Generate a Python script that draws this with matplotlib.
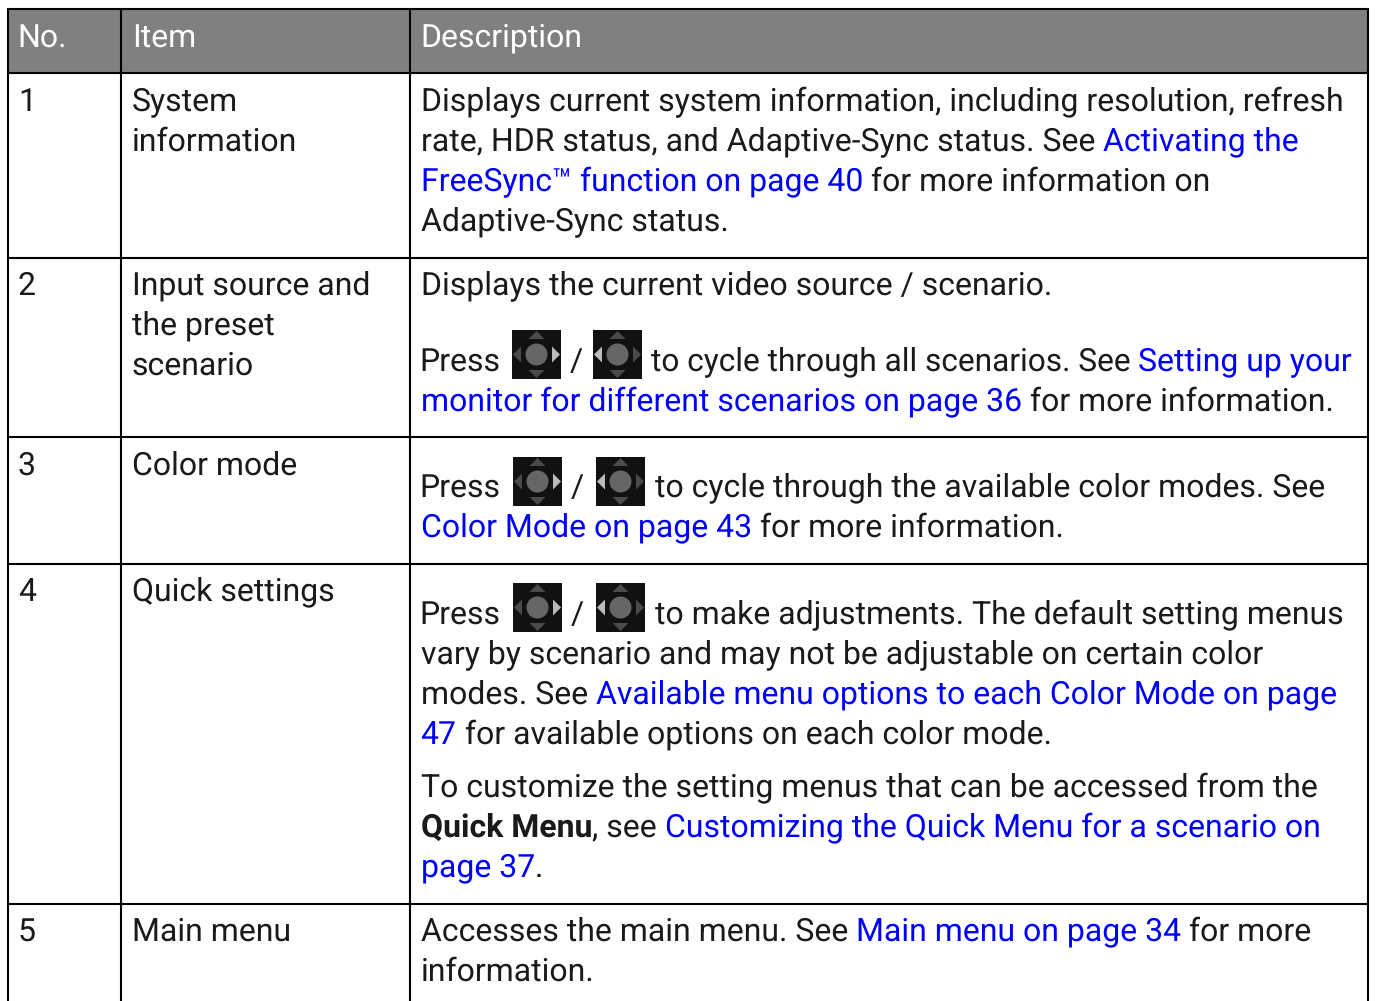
import matplotlib
matplotlib.use("Agg")
import matplotlib.pyplot as plt
from matplotlib.font_manager import FontProperties
from matplotlib.ft2font import LoadFlags
from matplotlib.patches import Circle, Polygon, Rectangle

WIDTH, HEIGHT = 1375, 1001
FONT_SIZE = 23.0
TIGHT_SIZE = 22.75
TEXT = "#1a1a1a"
LINK = "#0000ff"

headers = ["No.", "Item", "Description"]
numbers = ["1", "2", "3", "4", "5"]
items = [
    ["System", "information"],
    ["Input source and", "the preset", "scenario"],
    ["Color mode"],
    ["Quick settings"],
    ["Main menu"],
]
# each line is a list of (text, style) runs; "n" normal, "t" tight, "l" link, "b" bold
descriptions = [
    [
        [("Displays current system information, including resolution, refresh", "n")],
        [("rate, HDR status, and Adaptive-Sync status. See ", "n"), ("Activating the", "l")],
        [("FreeSync™ function on page 40", "l"), (" for more information on", "n")],
        [("Adaptive-Sync status.", "n")],
    ],
    [
        [("Displays the current video source / scenario.", "n")],
        [("to cycle through all scenarios. See ", "t"), ("Setting up your", "l")],
        [("monitor for different scenarios on page 36", "l"), (" for more information.", "n")],
    ],
    [
        [("to cycle through the available color modes. See", "n")],
        [("Color Mode on page 43", "l"), (" for more information.", "n")],
    ],
    [
        [("to make adjustments. The default setting menus", "n")],
        [("vary by scenario and may not be adjustable on certain color", "n")],
        [("modes. See ", "n"), ("Available menu options to each Color Mode on page", "l")],
        [("47", "l"), (" for available options on each color mode.", "n")],
        [("To customize the setting menus that can be accessed from the", "n")],
        [("Quick Menu", "b"), (", see ", "n"), ("Customizing the Quick Menu for a scenario on", "l")],
        [("page 37", "l"), (".", "n")],
    ],
    [
        [("Accesses the main menu. See ", "n"), ("Main menu on page 34", "l"), (" for more", "n")],
        [("information.", "n")],
    ],
]

# layout, in reference pixels
col_lines = [8, 121, 410, 1368]
row_lines = [73, 258, 437, 564, 904]
top_line = 9
header_x = [17, 132, 420]
text_x = [18, 132, 420.6]
press_x = 419.6
header_base = 47
first_base = [111, 295, 475, 601, 941]
desc_bases = [
    [111, 151, 191, 231],
    [295, 371, 411],
    [497, 537],
    [624, 664, 704, 744, 797, 837, 877],
    [941, 981],
]
# baseline, icon tops and x positions for the "Press [icon] / [icon] to ..." lines
press_rows = [
    (371, 330, 512, 593, 570, 651),
    (497, 457, 513, 596, 571, 655),
    (624, 583, 513, 596, 571, 655),
]

plt.rcParams["text.hinting"] = "no_hinting"
plt.rcParams["font.family"] = ["Roboto", "DejaVu Sans"]

fig = plt.figure(figsize=(WIDTH / 100, HEIGHT / 100), dpi=100)
ax = fig.add_axes([0, 0, 1, 1])
ax.set_xlim(0, WIDTH)
ax.set_ylim(HEIGHT, 0)
ax.axis("off")
renderer = fig.canvas.get_renderer()


def put_text(x, y, string, size=FONT_SIZE, weight="normal", color=TEXT):
    # unhinted descents are fractional, agg rounds them and baselines jitter by a pixel
    font = renderer._prepare_font(FontProperties(size=size, weight=weight))
    font.set_text(string, 0, flags=LoadFlags.NO_HINTING)
    height = font.get_width_height()[1]
    descent = font.get_descent()
    rows = int(height / 64) + 2
    shift = rows - int((height - descent) / 64 + 1) - 1 - descent / 64
    ax.text(x, y + shift, string, fontsize=size, fontweight=weight, color=color, va="baseline", ha="left")


def advance(string, weight, size):
    # the bar keeps trailing spaces in the measured width
    probe = ax.text(0, 0, string + "|", fontsize=size, fontweight=weight)
    bar = ax.text(0, 0, "|", fontsize=size, fontweight=weight)
    width = probe.get_window_extent(renderer).width - bar.get_window_extent(renderer).width
    probe.remove()
    bar.remove()
    return width


def draw_runs(x, y, runs):
    for string, style in runs:
        weight = "bold" if style == "b" else "normal"
        color = LINK if style == "l" else TEXT
        size = TIGHT_SIZE if style == "t" else FONT_SIZE
        put_text(x, y, string, size, weight, color)
        x += advance(string, weight, size)


def draw_icon(x, y, bright):
    # 50 px joystick glyph with one highlighted arrow
    ax.add_patch(Rectangle((x, y), 49, 49, fc="#111111", ec="none", zorder=3))
    cx, cy = x + 24.5, y + 24.5
    ax.add_patch(Circle((cx, cy), 11, fc="#666666", ec="none", zorder=4))
    dim = "#4a4a4a"
    shapes = {
        "up": [(cx - 8, y + 9), (cx + 8, y + 9), (cx, y + 1)],
        "down": [(cx - 8, y + 40), (cx + 8, y + 40), (cx, y + 48)],
        "left": [(x + 9, cy - 8), (x + 9, cy + 8), (x + 1, cy)],
        "right": [(x + 40, cy - 8), (x + 40, cy + 8), (x + 48, cy)],
    }
    for name, points in shapes.items():
        ax.add_patch(Polygon(points, closed=True, fc="#bbbbbb" if name == bright else dim, ec="none", zorder=4))


ax.add_patch(Rectangle((col_lines[0], top_line), col_lines[-1] - col_lines[0], row_lines[0] - top_line, fc="#808080", ec="none"))
for x in col_lines:
    ax.plot([x, x], [top_line - 1, HEIGHT], color="black", lw=1.5, solid_capstyle="butt")
for y in [top_line] + row_lines:
    ax.plot([col_lines[0] - 1, col_lines[-1] + 1], [y, y], color="black", lw=1.5, solid_capstyle="butt")

for x, label in zip(header_x, headers):
    put_text(x, header_base, label, color="white")

for number, lines, base in zip(numbers, items, first_base):
    put_text(text_x[0], base, number)
    for i, line in enumerate(lines):
        put_text(text_x[1], base + 40 * i, line)

for lines, bases in zip(descriptions, desc_bases):
    for runs, base in zip(lines, bases):
        start = text_x[2]
        for press in press_rows:
            if press[0] == base:
                start = press[5]
        draw_runs(start, base, runs)

for base, icon_y, icon_a, icon_b, slash_x, _ in press_rows:
    put_text(press_x, base, "Press")
    put_text(slash_x, base, "/")
    draw_icon(icon_a, icon_y, "right")
    draw_icon(icon_b, icon_y, "left")

fig.savefig("out.png", dpi=100)
